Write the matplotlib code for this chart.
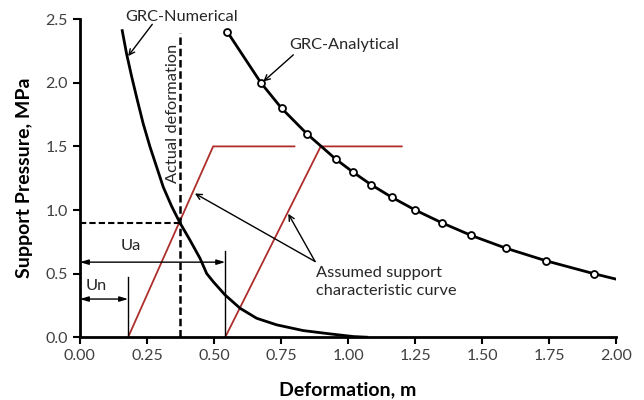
import matplotlib
matplotlib.use('Agg')
import matplotlib.pyplot as plt

plt.rcParams['font.family'] = ['Lato', 'DejaVu Sans']

# GRC numerical (smooth curve)
num_x = [0.158, 0.174, 0.193, 0.214, 0.236, 0.261, 0.286, 0.311, 0.342, 0.373, 0.41, 0.448,
         0.473, 0.497, 0.541, 0.597, 0.659, 0.734, 0.833, 0.933, 1.02, 1.07]
num_y = [2.41, 2.23, 2.05, 1.866, 1.68, 1.50, 1.34, 1.18, 1.03, 0.90, 0.765, 0.62,
         0.50, 0.437, 0.333, 0.228, 0.149, 0.097, 0.052, 0.026, 0.005, 0.0]

# GRC analytical (markers, last point has no marker)
ana_x = [0.55, 0.675, 0.752, 0.846, 0.954, 1.017, 1.085, 1.163, 1.25, 1.349, 1.459, 1.588, 1.739, 1.915, 2.00]
ana_y = [2.40, 2.00, 1.80, 1.60, 1.40, 1.30, 1.20, 1.10, 1.00, 0.90, 0.80, 0.70, 0.60, 0.50, 0.456]

# assumed support characteristic curves
sup1_x = [0.18, 0.497, 0.80]
sup1_y = [0.0, 1.5, 1.5]
sup2_x = [0.542, 0.898, 1.20]
sup2_y = [0.0, 1.5, 1.5]

u_actual = 0.373
p_actual = 0.90
u_n = 0.18
u_a = 0.542

fig = plt.figure(figsize=(6.44, 4.0), dpi=100)
ax = fig.add_axes([0.124, 0.157, 0.833, 0.795])

red = '#AE2E2C'
fs = 11.8
ax.plot(sup1_x, sup1_y, color=red, lw=1.3)
ax.plot(sup2_x, sup2_y, color=red, lw=1.3)
ax.plot(num_x, num_y, color='black', lw=2, solid_joinstyle='round')
ax.plot(ana_x, ana_y, color='black', lw=2, marker='o', ms=5,
        mfc='white', mec='black', mew=1.3, markevery=list(range(len(ana_x) - 1)))

# actual deformation
ax.plot([u_actual, u_actual], [0, 2.39], color='black', lw=1.8, ls=(0, (3, 1.5)))
ax.plot([0, u_actual], [p_actual, p_actual], color='black', lw=1.5, ls=(0, (3, 1.5)))
ax.text(u_actual - 0.027, 1.76, 'Actual deformation', rotation=90, ha='center', va='center',
        fontsize=fs, color='#262626')

# Un and Ua dimension marks
ax.plot([u_n, u_n], [0, 0.477], color='black', lw=1)
ax.plot([u_a, u_a], [0, 0.68], color='black', lw=1)
ax.annotate('', xy=(0, 0.30), xytext=(u_n, 0.30),
            arrowprops=dict(arrowstyle='<|-|>,head_length=0.5,head_width=0.15', color='black', lw=1, shrinkA=0, shrinkB=0))
ax.annotate('', xy=(0, 0.59), xytext=(u_a, 0.59),
            arrowprops=dict(arrowstyle='<|-|>,head_length=0.5,head_width=0.15', color='black', lw=1, shrinkA=0, shrinkB=0))
ax.text(0.06, 0.405, 'Un', ha='center', va='center', fontsize=fs, color='#262626')
ax.text(0.19, 0.715, 'Ua', ha='center', va='center', fontsize=fs, color='#262626')

# labels with arrows
arr = dict(arrowstyle='->', color='black', lw=1, shrinkA=0, shrinkB=0)
ax.text(0.38, 2.52, 'GRC-Numerical', ha='center', va='center', fontsize=fs, color='#262626')
ax.annotate('', xy=(0.18, 2.21), xytext=(0.27, 2.46), arrowprops=arr)
ax.text(0.985, 2.30, 'GRC-Analytical', ha='center', va='center', fontsize=fs, color='#262626')
ax.annotate('', xy=(0.684, 2.01), xytext=(0.796, 2.22), arrowprops=arr)
ax.text(0.88, 0.435, 'Assumed support\ncharacteristic curve', ha='left', va='center',
        fontsize=fs, color='#262626', linespacing=1.3)
ax.annotate('', xy=(0.429, 1.13), xytext=(0.877, 0.595), arrowprops=arr)
ax.annotate('', xy=(0.777, 0.97), xytext=(0.877, 0.595), arrowprops=arr)

ax.set_xlim(0, 2.0)
ax.set_ylim(0, 2.5)
ax.set_xticks([0, 0.25, 0.5, 0.75, 1.0, 1.25, 1.5, 1.75, 2.0])
ax.set_xticklabels(['0.00', '0.25', '0.50', '0.75', '1.00', '1.25', '1.50', '1.75', '2.00'])
ax.set_yticks([0, 0.5, 1.0, 1.5, 2.0, 2.5])
ax.set_yticklabels(['0.0', '0.5', '1.0', '1.5', '2.0', '2.5'])
ax.tick_params(axis='both', direction='out', length=5, width=1.5, labelsize=11.5, labelcolor='#404040')
for s in ['top', 'right']:
    ax.spines[s].set_visible(False)
for s in ['left', 'bottom']:
    ax.spines[s].set_linewidth(2)
ax.set_xlabel('Deformation, m', fontsize=14, fontweight='bold', labelpad=13)
ax.set_ylabel('Support Pressure, MPa', fontsize=14, fontweight='bold', labelpad=9)

fig.savefig('out.png', dpi=100)
